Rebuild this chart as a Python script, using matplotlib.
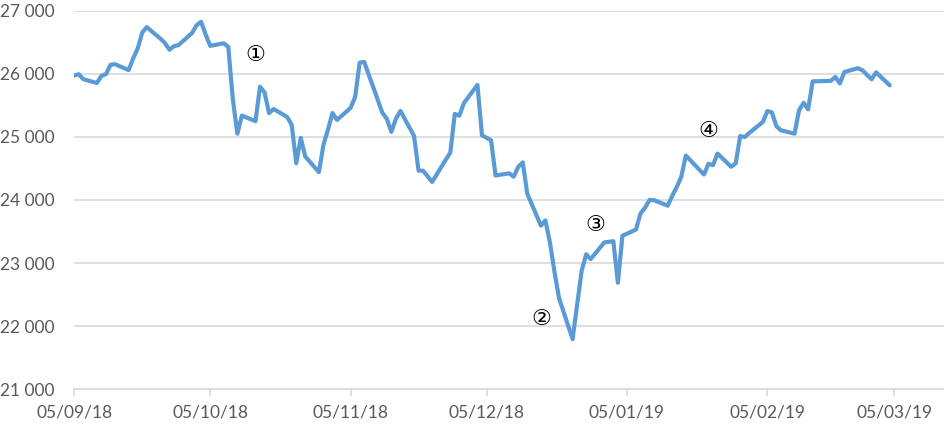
import datetime as dt
import matplotlib
matplotlib.use('Agg')
import matplotlib.pyplot as plt
import matplotlib.dates as mdates
from matplotlib.ticker import FuncFormatter, MultipleLocator

# daily closes (trading days only)
dates = [
    '2018-09-05', '2018-09-06', '2018-09-07', '2018-09-10', '2018-09-11', '2018-09-12', '2018-09-13',
    '2018-09-14', '2018-09-17', '2018-09-18', '2018-09-19', '2018-09-20', '2018-09-21', '2018-09-24',
    '2018-09-25', '2018-09-26', '2018-09-27', '2018-09-28',
    '2018-10-01', '2018-10-02', '2018-10-03', '2018-10-04', '2018-10-05', '2018-10-08', '2018-10-09',
    '2018-10-10', '2018-10-11', '2018-10-12', '2018-10-15', '2018-10-16', '2018-10-17', '2018-10-18',
    '2018-10-19', '2018-10-22', '2018-10-23', '2018-10-24', '2018-10-25', '2018-10-26', '2018-10-29',
    '2018-10-30', '2018-10-31',
    '2018-11-01', '2018-11-02', '2018-11-05', '2018-11-06', '2018-11-07', '2018-11-08', '2018-11-09',
    '2018-11-12', '2018-11-13', '2018-11-14', '2018-11-15', '2018-11-16', '2018-11-19', '2018-11-20',
    '2018-11-21', '2018-11-23', '2018-11-26', '2018-11-27', '2018-11-28', '2018-11-29', '2018-11-30',
    '2018-12-03', '2018-12-04', '2018-12-06', '2018-12-07', '2018-12-10', '2018-12-11', '2018-12-12',
    '2018-12-13', '2018-12-14', '2018-12-17', '2018-12-18', '2018-12-19', '2018-12-20', '2018-12-21',
    '2018-12-24', '2018-12-26', '2018-12-27', '2018-12-28', '2018-12-31',
    '2019-01-02', '2019-01-03', '2019-01-04', '2019-01-07', '2019-01-08', '2019-01-09', '2019-01-10',
    '2019-01-11', '2019-01-14', '2019-01-15', '2019-01-16', '2019-01-17', '2019-01-18', '2019-01-22',
    '2019-01-23', '2019-01-24', '2019-01-25', '2019-01-28', '2019-01-29', '2019-01-30', '2019-01-31',
    '2019-02-01', '2019-02-04', '2019-02-05', '2019-02-06', '2019-02-07', '2019-02-08', '2019-02-11',
    '2019-02-12', '2019-02-13', '2019-02-14', '2019-02-15', '2019-02-19', '2019-02-20', '2019-02-21',
    '2019-02-22', '2019-02-25', '2019-02-26', '2019-02-27', '2019-02-28',
    '2019-03-01', '2019-03-04',
]
closes = [
    25975, 25996, 25917, 25857, 25971, 25999, 26146,
    26155, 26062, 26247, 26406, 26657, 26744, 26562,
    26492, 26385, 26440, 26458,
    26651, 26774, 26828, 26627, 26447, 26487, 26431,
    25599, 25053, 25340, 25251, 25798, 25707, 25379,
    25444, 25317, 25191, 24583, 24985, 24688, 24443,
    24875, 25116,
    25381, 25271, 25462, 25635, 26180, 26191, 25989,
    25387, 25286, 25081, 25289, 25413, 25017, 24466,
    24465, 24286, 24640, 24749, 25366, 25339, 25538,
    25826, 25027, 24948, 24389, 24423, 24370, 24527,
    24597, 24101, 23593, 23676, 23324, 22860, 22445,
    21792, 22878, 23139, 23062, 23327,
    23346, 22686, 23433, 23531, 23787, 23879, 24002,
    23996, 23910, 24066, 24207, 24370, 24706, 24404,
    24576, 24553, 24737, 24528, 24580, 25015, 25000,
    25064, 25239, 25412, 25390, 25170, 25106, 25053,
    25426, 25543, 25439, 25883, 25891, 25954, 25851,
    26032, 26092, 26058, 25985, 25916,
    26026, 25820,
]

# circled markers and where they sit
note_labels = ['\u2460', '\u2461', '\u2462', '\u2463']
note_dates = ['2018-10-15', '2018-12-17', '2018-12-29', '2019-01-23']
note_values = [26300, 22110, 23600, 25095]

tick_dates = ['2018-09-05', '2018-10-05', '2018-11-05', '2018-12-05',
              '2019-01-05', '2019-02-05', '2019-03-05']


def to_date(s):
    return dt.datetime.strptime(s, '%Y-%m-%d')


plt.rcParams['font.family'] = ['Lato', 'DejaVu Sans']
text_color = '#595959'
grid_color = '#d9d9d9'

fig = plt.figure(figsize=(9.45, 4.29), dpi=100)
ax = fig.add_axes([0.0786, 0.0932, 0.9204, 0.8812])

ax.plot([to_date(d) for d in dates], closes, color='#5b9bd5', linewidth=3.0,
        solid_joinstyle='round', solid_capstyle='round', zorder=3)

for label, d, v in zip(note_labels, note_dates, note_values):
    ax.text(to_date(d), v, label, ha='center', va='center', fontsize=16,
            color='black', family=['DejaVu Sans'], zorder=4)

ax.set_xlim(to_date('2018-09-05'), to_date('2019-03-16'))
ax.set_ylim(21000, 27000)

ax.yaxis.set_major_locator(MultipleLocator(1000))
ax.yaxis.set_major_formatter(FuncFormatter(lambda v, p: '{:,}'.format(int(v)).replace(',', ' ')))
ax.set_xticks([to_date(d) for d in tick_dates])
ax.xaxis.set_major_formatter(mdates.DateFormatter('%d/%m/%y'))

ax.grid(axis='y', color=grid_color, linewidth=1.2, zorder=0)
for side in ['top', 'right', 'left']:
    ax.spines[side].set_visible(False)
ax.spines['bottom'].set_color(grid_color)
ax.spines['bottom'].set_linewidth(1.2)

ax.tick_params(axis='y', length=0, pad=14, labelsize=12.5, labelcolor=text_color)
ax.tick_params(axis='x', length=5, width=1.2, color=grid_color, pad=6,
               labelsize=12.5, labelcolor=text_color)

fig.savefig('out.png', dpi=100)
